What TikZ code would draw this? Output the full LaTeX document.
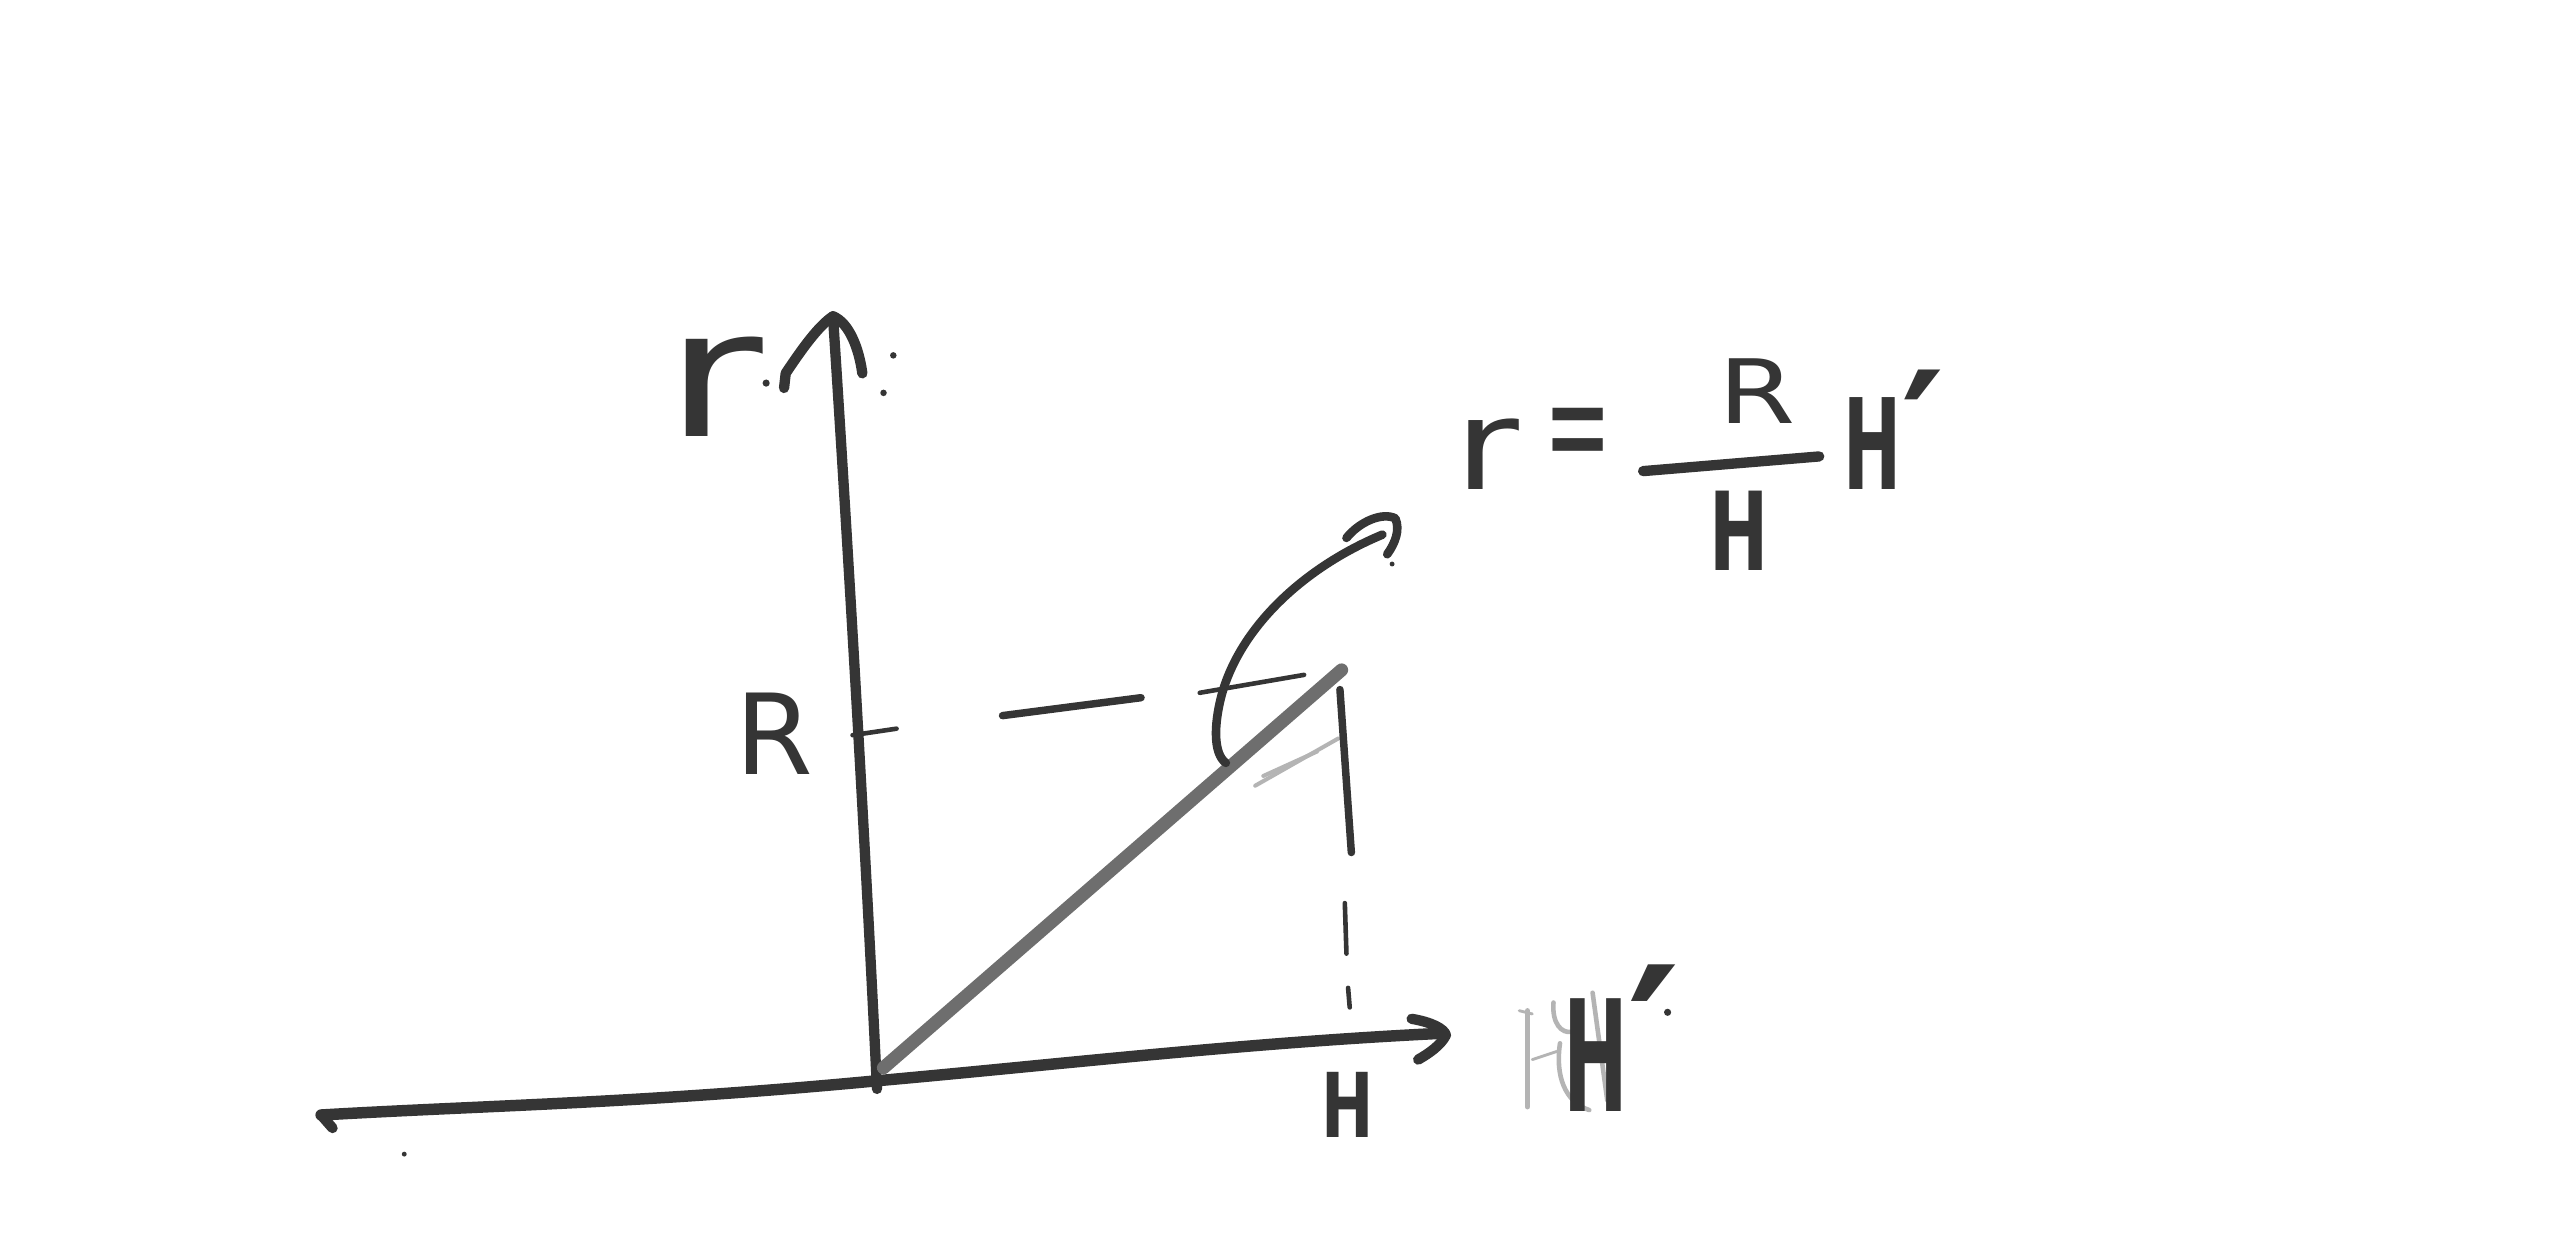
\documentclass[tikz,border=0pt]{standalone}
\usepackage{fontspec}
\setmainfont{DejaVu Sans}
\definecolor{pencil}{HTML}{353535}
\definecolor{pencilmid}{HTML}{6E6E6E}
\definecolor{faint}{HTML}{B4B4B4}
\newcommand{\fsz}[1]{\fontsize{#1}{#1}\selectfont}
\begin{document}
\begin{tikzpicture}[x=0.01cm,y=-0.01cm,
  axis/.style={draw=pencil,line width=1.8pt,line cap=round,line join=round},
  diag/.style={draw=pencilmid,line width=2.3pt,line cap=round},
  dashline/.style={draw=pencil,line width=0.8pt,line cap=round},
  faintline/.style={draw=faint,line width=0.5pt,line cap=round},
  lbl/.style={text=pencil,inner sep=0pt,anchor=base},
  dotmark/.style={fill=pencil,draw=none}]
\useasboundingbox[fill=white] (0,0) rectangle (1568,766);

% key coordinates
\coordinate (hl) at (197,684);
\coordinate (o) at (538,663);
\coordinate (hr) at (882,634);
\coordinate (vb) at (538,668);
\coordinate (vt) at (511,194);
\coordinate (dtop) at (823,411);
\coordinate (dbot) at (542,655);

% horizontal axis
\draw[axis,line width=2pt] (hl) .. controls (300,678) and (390,677) .. (o)
  .. controls (650,653) and (760,640) .. (hr);
\draw[axis] (hl) -- (204,692);
\draw[axis] (866,625) .. controls (878,627) and (886,631) .. (887,635)
  .. controls (884,641) and (877,646) .. (870,650);

% vertical axis
\draw[axis] (vb) .. controls (530,500) and (518,300) .. (vt);
\draw[axis] (481,238) -- (482,229) .. controls (492,214) and (502,200) .. (vt)
  .. controls (521,198) and (527,214) .. (529,229);

% diagonal line
\draw[diag] (dbot) -- (dtop);
\draw[faintline,line width=0.7pt] (770,482) -- (821,453);
\draw[faintline,line width=0.7pt] (775,476) -- (808,461);

% dashed guide lines
\draw[dashline] (523,451) -- (550,447);
\draw[dashline,line width=1.3pt] (615,439) -- (700,428);
\draw[dashline] (736,425) -- (800,414);
\draw[dashline,line width=1.3pt] (822,423) -- (829,523);
\draw[dashline] (825,554) -- (826,585);
\draw[dashline] (827,606) -- (828,618);

% curved arrow
\draw[axis,line width=1.5pt] (752,468) .. controls (744,462) and (745,444) .. (749,428)
  .. controls (760,385) and (800,348) .. (848,328);
\draw[axis,line width=1.5pt] (826,330) .. controls (834,320) and (848,314) .. (856,318)
  .. controls (859,325) and (856,333) .. (851,340);

% pencil dots
\fill[dotmark] (470,235) circle (2.2);
\fill[dotmark] (548,218) circle (2);
\fill[dotmark] (542,241) circle (2);
\fill[dotmark] (248,708) circle (1.5);
\fill[dotmark] (854,346) circle (1.5);
\fill[dotmark] (1023,621) circle (2.2);

% faint erased strokes near H'
\draw[faintline,line width=0.9pt] (937,620) -- (937,679);
\draw[faintline] (932,620) -- (940,622);
\draw[faintline] (940,650) -- (955,645);
\draw[faintline,line width=0.8pt] (953,615) .. controls (952,628) and (958,634) .. (964,633);
\draw[faintline,line width=0.8pt] (957,640) .. controls (954,660) and (960,676) .. (975,681);
\draw[faintline,line width=0.8pt] (977,609) -- (986,675);

% labels
\node[lbl] (lr) at (438,268) {\fsz{31pt}\scalebox{1.35}[1]{r}};
\node[lbl] (lR) at (475,475) {\fsz{19.5pt}R};
\node[lbl] (lH) at (827,698) {\fsz{15.6pt}\bfseries\scalebox{0.7}[1]{H}};
\node[lbl] (lHp) at (995,682) {\fsz{27pt}\bfseries\scalebox{0.5}[1]{H}\scalebox{1.3}{′}};

% formula
\node[lbl] (fr) at (912,300) {\fsz{22pt}\scalebox{1.25}[1]{r}};
\node[lbl] (feq) at (968,293) {\fsz{14pt}\scalebox{1}[1.9]{=}};
\node[lbl] (fnum) at (1078,260) {\fsz{15.5pt}\scalebox{1.25}[1]{R}};
\node[lbl] (fden) at (1067,350) {\fsz{19pt}\bfseries\scalebox{0.65}[1]{H}};
\node[lbl] (fhp) at (1162,300) {\fsz{22pt}\bfseries\scalebox{0.55}[1]{H}\scalebox{1.3}{′}};
\coordinate (barl) at (1008,289);
\coordinate (barr) at (1116,280);
\draw[axis,line width=1.8pt] (barl) -- (barr);
\end{tikzpicture}
\end{document}
